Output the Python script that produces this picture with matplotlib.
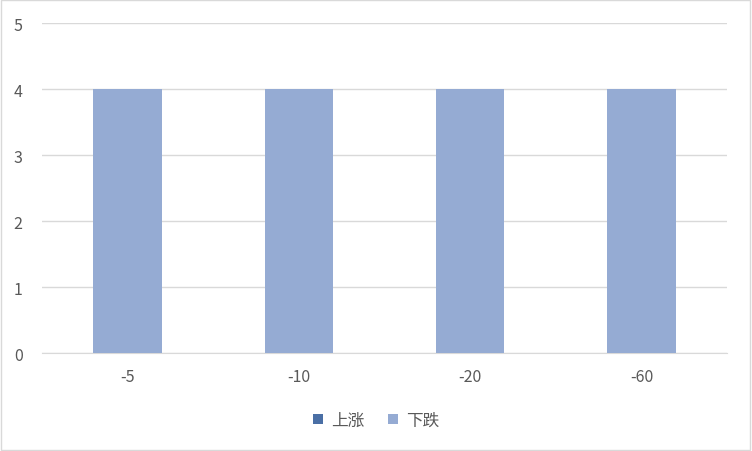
import matplotlib
matplotlib.use("Agg")
import matplotlib.pyplot as plt
import numpy as np
from matplotlib.patches import Rectangle

plt.rcParams["font.family"] = ["Noto Sans CJK SC", "DejaVu Sans"]

categories = ["-5", "-10", "-20", "-60"]
rise = [0, 0, 0, 0]
fall = [4, 4, 4, 4]
series_names = ["上涨", "下跌"]
y_ticks = [0, 1, 2, 3, 4, 5]

RISE_COLOR = "#4a6fa5"
FALL_COLOR = "#95abd3"
TEXT_COLOR = "#595959"
GRID_COLOR = "#d9d9d9"

fig = plt.figure(figsize=(7.52, 4.52), dpi=100)
fig.patch.set_facecolor("white")
fig.patches.append(Rectangle((0.001, 0.002), 0.997, 0.995, transform=fig.transFigure,
                             fill=False, edgecolor="#d9d9d9", linewidth=1.0))

ax = fig.add_axes([0.0559, 0.2168, 0.9109, 0.7301])
x = np.arange(len(categories))
ax.bar(x, rise, width=0.4, color=RISE_COLOR, label=series_names[0], zorder=3)
ax.bar(x, fall, width=0.4, bottom=rise, color=FALL_COLOR, label=series_names[1], zorder=3)

ax.set_xlim(-0.5, len(categories) - 0.5)
ax.set_ylim(0, 5)
ax.set_yticks(y_ticks)
ax.set_xticks(x)
ax.set_xticklabels(categories)
ax.yaxis.grid(True, color=GRID_COLOR, linewidth=1.0, zorder=0)
ax.set_axisbelow(True)
for side in ["top", "right", "left"]:
    ax.spines[side].set_visible(False)
ax.spines["bottom"].set_color(GRID_COLOR)
ax.tick_params(axis="both", length=0, labelsize=11.5, colors=TEXT_COLOR)
ax.tick_params(axis="y", pad=14)
ax.tick_params(axis="x", pad=11)

fig.legend(loc="center", bbox_to_anchor=(0.5, 0.068), ncol=2, frameon=False,
           fontsize=12, labelcolor=TEXT_COLOR, handlelength=0.6, handleheight=0.6,
           handletextpad=0.5, columnspacing=1.4)

fig.savefig("out.png", dpi=100)
